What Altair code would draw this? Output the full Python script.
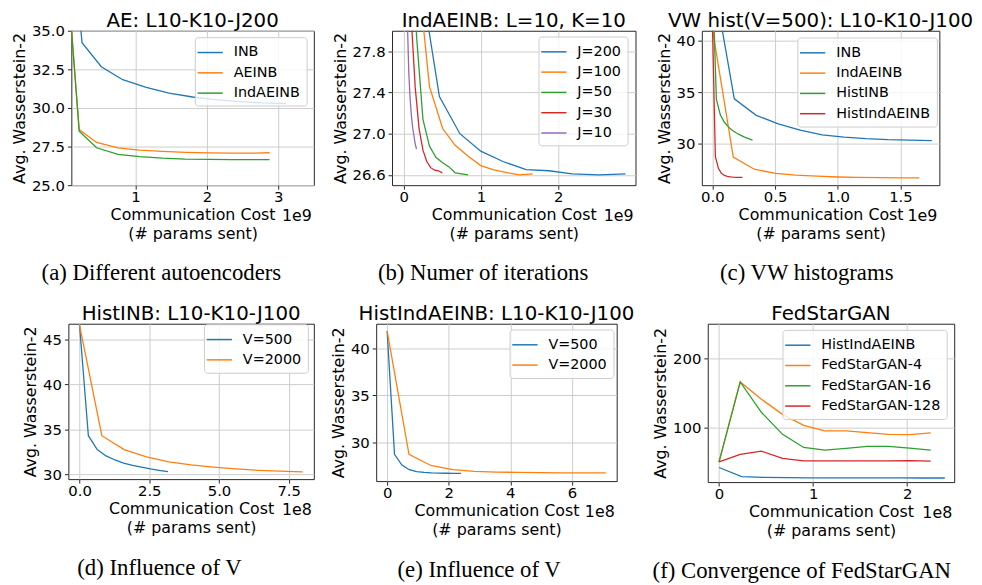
import altair as alt
import pandas as pd

FONT = "DejaVu Sans"
SERIF = "Liberation Serif"
TAB10 = ["#1f77b4", "#ff7f0e", "#2ca02c", "#d62728", "#9467bd"]
XTITLE = ["Communication Cost", "(# params sent)"]
YTITLE = "Avg. Wasserstein-2"

# ---------------- (a) Different autoencoders  (x in 1e9) ----------------
A_NAMES = ["INB", "AEINB", "IndAEINB"]
A_INB_X = [0, 0.25, 0.52, 0.82, 1.15, 1.47, 1.80, 2.12, 2.44, 2.77, 3.11]
A_INB_Y = [46.6, 34.23, 32.67, 31.83, 31.33, 30.96, 30.71, 30.54, 30.42, 30.33, 30.29]
A_AE_X = [0, 0.21, 0.454, 0.755, 1.056, 1.38, 1.70, 2.03, 2.35, 2.68, 2.88]
A_AE_Y = [41.2, 28.6, 27.77, 27.42, 27.27, 27.19, 27.13, 27.09, 27.08, 27.08, 27.10]
A_IND_X = [0, 0.21, 0.454, 0.755, 1.056, 1.38, 1.70, 2.03, 2.35, 2.68, 2.88]
A_IND_Y = [41.2, 28.5, 27.42, 27.0, 26.85, 26.75, 26.69, 26.67, 26.65, 26.65, 26.65]

# ---------------- (b) Number of iterations  (x in 1e9) ----------------
B_NAMES = ["J=200", "J=100", "J=50", "J=30", "J=10"]
B_J200_X = [0, 0.21, 0.463, 0.728, 0.998, 1.285, 1.585, 1.88, 2.18, 2.53, 2.87]
B_J200_Y = [41.2, 28.56, 27.36, 27.0, 26.83, 26.73, 26.65, 26.64, 26.61, 26.60, 26.61]
B_J100_X = [0, 0.167, 0.334, 0.505, 0.664, 0.835, 0.998, 1.156, 1.35, 1.50, 1.67]
B_J100_Y = [41.2, 28.7, 27.46, 27.05, 26.89, 26.78, 26.69, 26.65, 26.62, 26.60, 26.61]
B_J50_X = [0, 0.083, 0.167, 0.25, 0.334, 0.417, 0.5, 0.583, 0.667, 0.75, 0.835]
B_J50_Y = [41.2, 30.8, 27.95, 27.14, 26.88, 26.77, 26.72, 26.68, 26.62, 26.61, 26.60]
B_J30_X = [0, 0.05, 0.1, 0.15, 0.2, 0.25, 0.3, 0.35, 0.4, 0.45, 0.5]
B_J30_Y = [41.2, 31.5, 28.1, 27.45, 27.05, 26.84, 26.73, 26.67, 26.645, 26.64, 26.62]
B_J10_X = [0, 0.0167, 0.0333, 0.05, 0.0667, 0.0833, 0.1, 0.1167, 0.1333, 0.15, 0.1667]
B_J10_Y = [41.2, 33.0, 29.5, 28.05, 27.6, 27.35, 27.18, 27.06, 26.98, 26.9, 26.85]

# ---------------- (c) VW histograms  (x in 1e9) ----------------
C_NAMES = ["INB", "IndAEINB", "HistINB", "HistIndAEINB"]
C_INB_X = [0, 0.175, 0.35, 0.525, 0.70, 0.875, 1.05, 1.225, 1.40, 1.575, 1.75]
C_INB_Y = [46.6, 34.34, 32.73, 31.9, 31.29, 30.82, 30.6, 30.45, 30.35, 30.3, 30.26]
C_IND_X = [0, 0.167, 0.334, 0.505, 0.664, 0.835, 0.998, 1.156, 1.35, 1.50, 1.65]
C_IND_Y = [41.2, 28.65, 27.46, 27.05, 26.89, 26.78, 26.7, 26.66, 26.63, 26.62, 26.62]
C_HINB_X = [0, 0.032, 0.064, 0.096, 0.128, 0.16, 0.192, 0.224, 0.256, 0.288, 0.32]
C_HINB_Y = [46.6, 34.3, 32.75, 32.05, 31.6, 31.25, 31.0, 30.8, 30.6, 30.45, 30.3]
C_HIND_X = [0, 0.024, 0.048, 0.072, 0.096, 0.12, 0.144, 0.168, 0.192, 0.216, 0.24]
C_HIND_Y = [41.9, 28.7, 27.55, 27.05, 26.85, 26.77, 26.72, 26.69, 26.67, 26.66, 26.66]

# ---------------- (d) HistINB, influence of V  (x in 1e8) ----------------
D_NAMES = ["V=500", "V=2000"]
D_500_X = [0, 0.317, 0.634, 0.95, 1.27, 1.58, 1.9, 2.22, 2.54, 2.85, 3.17]
D_500_Y = [46.6, 34.3, 32.75, 32.05, 31.6, 31.25, 31.0, 30.8, 30.6, 30.45, 30.3]
D_2000_X = [0, 0.8, 1.6, 2.4, 3.2, 4.0, 4.8, 5.6, 6.4, 7.2, 8.0]
D_2000_Y = [46.6, 34.3, 32.75, 31.95, 31.4, 31.05, 30.8, 30.6, 30.45, 30.35, 30.27]

# ---------------- (e) HistIndAEINB, influence of V  (x in 1e8) ----------------
E_NAMES = ["V=500", "V=2000"]
E_500_X = [0, 0.24, 0.48, 0.72, 0.96, 1.2, 1.44, 1.68, 1.92, 2.16, 2.4]
E_500_Y = [41.9, 28.7, 27.55, 27.05, 26.85, 26.77, 26.72, 26.69, 26.67, 26.66, 26.66]
E_2000_X = [0, 0.71, 1.42, 2.13, 2.84, 3.55, 4.26, 4.97, 5.68, 6.39, 7.1]
E_2000_Y = [41.9, 28.7, 27.5, 27.05, 26.87, 26.8, 26.76, 26.73, 26.71, 26.70, 26.70]

# ---------------- (f) FedStarGAN  (x in 1e8) ----------------
F_NAMES = ["HistIndAEINB", "FedStarGAN-4", "FedStarGAN-16", "FedStarGAN-128"]
F_HIND_X = [0, 0.24, 0.48, 0.72, 0.96, 1.2, 1.44, 1.68, 1.92, 2.16, 2.4]
F_HIND_Y = [41.9, 28.7, 27.55, 27.05, 26.85, 26.77, 26.72, 26.69, 26.67, 26.66, 26.66]
F_GAN_X = [0, 0.225, 0.45, 0.675, 0.9, 1.125, 1.35, 1.575, 1.8, 2.025, 2.25]
F_G4_Y = [50, 166, 141, 119, 103, 95, 95, 92.5, 90, 89.5, 92]
F_G16_Y = [50, 166, 122, 90, 71, 67, 69.5, 72.5, 72.5, 70, 67]
F_G128_Y = [50, 61, 65.5, 55, 51.5, 51.5, 51.5, 51.5, 51.5, 52, 51]


def series_df(names, xs_list, ys_list):
    rows = []
    for name, xs, ys in zip(names, xs_list, ys_list):
        for i, (x, y) in enumerate(zip(xs, ys)):
            rows.append({"series": name, "step": i, "cost": x, "w2": y})
    return pd.DataFrame(rows)


def label_layer(text, font, size, align, x, y):
    return alt.Chart(pd.DataFrame({"label": [text]})).mark_text(
        font=font, fontSize=size, align=align, baseline="alphabetic", color="black"
    ).encode(x=alt.value(x), y=alt.value(y), text="label:N")


def panel(title, names, xs_list, ys_list, xdom, ydom, xticks, yticks, xfmt, yfmt,
          w, h, power, caption, cap_x, cap_dy, leg_x, leg_y):
    df = series_df(names, xs_list, ys_list)
    lines = alt.Chart(df).mark_line(strokeWidth=1.3, clip=True).encode(
        x=alt.X("cost:Q", scale=alt.Scale(domain=xdom, nice=False, zero=False),
                axis=alt.Axis(values=xticks, format=xfmt, title=XTITLE)),
        y=alt.Y("w2:Q", scale=alt.Scale(domain=ydom, nice=False, zero=False),
                axis=alt.Axis(values=yticks, format=yfmt, title=YTITLE)),
        color=alt.Color("series:N",
                        scale=alt.Scale(domain=names, range=TAB10[:len(names)]),
                        legend=alt.Legend(title=None, orient="none", legendX=leg_x, legendY=leg_y,
                                          symbolType="M-1.5,0H1.5", symbolSize=289,
                                          symbolStrokeWidth=1.5, labelFont=FONT,
                                          labelFontSize=14.5, labelColor="black",
                                          rowPadding=4.5, padding=6, labelOffset=14.25,
                                          fillColor="rgba(255,255,255,0.8)",
                                          strokeColor="#cccccc", cornerRadius=3)),
        order=alt.Order("step:Q"),
    )
    ttl = label_layer(title, FONT, 20, "center", w / 2, -3.5)
    cap = label_layer(caption, SERIF, 23, "center", cap_x, h + cap_dy)
    off = label_layer(power, FONT, 16, "right", w - 2, h + 36)
    return alt.layer(lines, ttl, cap, off).properties(width=w, height=h)


def spacer(w, h):
    return alt.Chart(pd.DataFrame({"t": [""]})).mark_text().encode(text="t:N").properties(
        width=w, height=h, view=alt.ViewBackground(stroke="transparent"))


pa = panel("AE: L10-K10-J200", A_NAMES, [A_INB_X, A_AE_X, A_IND_X], [A_INB_Y, A_AE_Y, A_IND_Y],
           [0.1, 3.5], [25, 35], [1, 2, 3], [25, 27.5, 30, 32.5, 35], "d", ".1f",
           245, 156, "1e9", "(a) Different autoencoders", 91, 96, 124.75, 6.5)
pb = panel("IndAEINB: L=10, K=10", B_NAMES,
           [B_J200_X, B_J100_X, B_J50_X, B_J30_X, B_J10_X],
           [B_J200_Y, B_J100_Y, B_J50_Y, B_J30_Y, B_J10_Y],
           [-0.15, 3.0], [26.5, 28.0], [0, 1, 2], [26.6, 27.0, 27.4, 27.8], "d", ".1f",
           246, 156, "1e9", "(b) Numer of iterations", 92, 96, 148, 5.8)
pc = panel("VW hist(V=500): L10-K10-J100", C_NAMES,
           [C_INB_X, C_IND_X, C_HINB_X, C_HIND_X], [C_INB_Y, C_IND_Y, C_HINB_Y, C_HIND_Y],
           [-0.084, 1.81], [25.9, 41.0], [0, 0.5, 1.0, 1.5], [30, 35, 40], ".1f", "d",
           240, 156, "1e9", "(c) VW histograms", 106, 96, 96.5, 6.8)
pd_ = panel("HistINB: L10-K10-J100", D_NAMES, [D_500_X, D_2000_X], [D_500_Y, D_2000_Y],
            [-0.4, 8.4], [29.47, 46.76], [0, 2.5, 5.0, 7.5], [30, 35, 40, 45], ".1f", "d",
            248, 157, "1e8", "(d) Influence of V", 92, 97, 137, 0.5)
pe = panel("HistIndAEINB: L10-K10-J100", E_NAMES, [E_500_X, E_2000_X], [E_500_Y, E_2000_Y],
           [-0.355, 7.455], [25.83, 42.67], [0, 2, 4, 6], [30, 35, 40], "d", "d",
           243, 159, "1e8", "(e) Influence of V", 104, 97, 134.75, 5.8)
pf = panel("FedStarGAN", F_NAMES, [F_HIND_X, F_GAN_X, F_GAN_X, F_GAN_X],
           [F_HIND_Y, F_G4_Y, F_G16_Y, F_G128_Y],
           [-0.12, 2.5], [20.7, 250.5], [0, 1, 2], [100, 200], "d", "d",
           249, 160, "1e8", "(f) Convergence of FedStarGAN", 95, 97, 75.5, 6.2)

row1 = alt.hconcat(spacer(63, 156), pa, spacer(79, 156), pb, spacer(67, 156), pc,
                   spacing=0, bounds="flush").resolve_scale(color="independent").resolve_legend(color="independent")
row2 = alt.hconcat(spacer(60, 157), pd_, spacer(63, 157), pe, spacer(92, 157), pf,
                   spacing=0, bounds="flush").resolve_scale(color="independent").resolve_legend(color="independent")

chart = alt.vconcat(row1, row2, spacing=18).resolve_scale(color="independent").resolve_legend(
    color="independent"
).properties(
    padding={"left": 0, "top": 0, "right": 0, "bottom": 0}
).configure_view(
    stroke="#262626", strokeWidth=1
).configure_axis(
    labelFont=FONT, labelFontSize=15, labelColor="black",
    titleFont=FONT, titleFontSize=16, titleFontWeight="normal", titleColor="black",
    grid=True, gridColor="#cccccc", gridWidth=1,
    tickColor="#262626", tickSize=4, domain=False,
    labelFlush=False, labelOverlap=False, titleLineHeight=19,
).configure_axisY(
    titlePadding=4, labelPadding=3
).configure_axisX(
    titlePadding=2, labelPadding=1
)

chart.save("out.html", embed_options={"renderer": "svg", "actions": False})
